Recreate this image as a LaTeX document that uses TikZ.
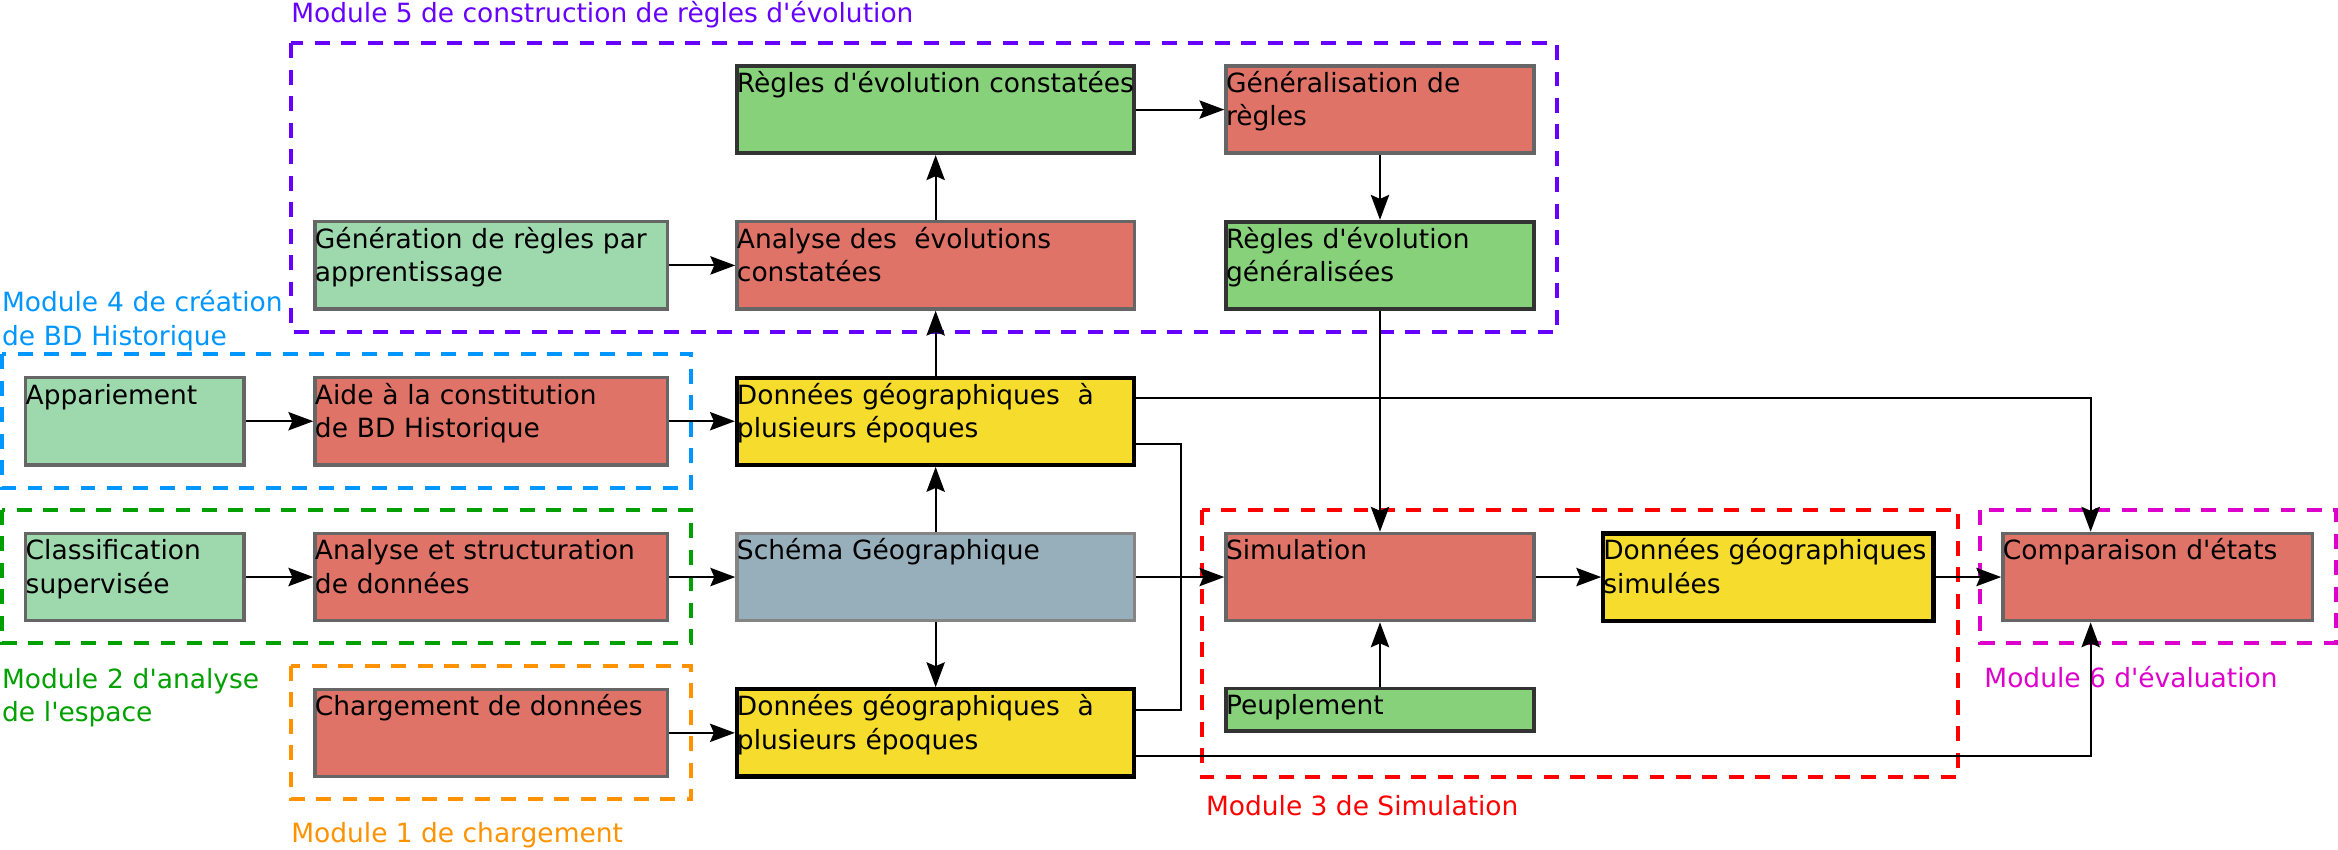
\documentclass[tikz,border=0pt]{standalone}
\usepackage{fontspec}
\usepackage{tikz}
\usetikzlibrary{calc,arrows.meta}
\newfontfamily\dejavu{DejaVu Sans}
\newcommand{\boxfont}{\dejavu\fontsize{10.1}{12.75}\selectfont}
\definecolor{redfill}{HTML}{E07367}
\definecolor{lgrfill}{HTML}{9ED9AE}
\definecolor{grfill}{HTML}{87D17A}
\definecolor{yelfill}{HTML}{F5DC2D}
\definecolor{blufill}{HTML}{97AEBB}
\definecolor{edgegray}{HTML}{666666}
\definecolor{edgedark}{HTML}{333333}
\definecolor{edgelight}{HTML}{858585}
\definecolor{mod1}{HTML}{FF9200}
\definecolor{mod2}{HTML}{00A000}
\definecolor{mod3}{HTML}{FF0000}
\definecolor{mod4}{HTML}{0096FF}
\definecolor{mod5}{HTML}{6600FF}
\definecolor{mod6}{HTML}{DD00CC}
\tikzset{
  box/.style={line width=1.3pt, inner sep=0pt, align=left, text height=3.55mm, text depth=8.15mm, font=\boxfont},
  lowbox/.style={text depth=2.15mm},
  redb/.style={box, fill=redfill, draw=edgegray},
  lgrb/.style={box, fill=lgrfill, draw=edgegray},
  grb/.style={box, fill=grfill, draw=edgedark, line width=1.5pt},
  yelb/.style={box, fill=yelfill, draw=black, line width=1.6pt},
  blub/.style={box, fill=blufill, draw=edgelight},
  arr/.style={draw=black, line width=0.75pt, -{Stealth[length=9.5pt,width=7pt,inset=1.5pt]}},
  link/.style={draw=black, line width=0.75pt},
  modframe/.style={line width=1.5pt, dash pattern=on 2mm off 1.55mm},
  modlab/.style={font=\boxfont, inner sep=0pt, anchor=base west},
}
\begin{document}
\begin{tikzpicture}[x=0.2mm,y=-0.2mm]
  \useasboundingbox (0,0) rectangle (1568,569.4);
  \def\colA{29.3mm}
  \def\colB{47.3mm}
  \def\colC{53.3mm}
  \def\colD{41.3mm}
  \def\colE{44.3mm}
  \def\colF{41.5mm}

  % module frames
  \draw[modframe,draw=mod5] (195,29.1) rectangle (1044.3,222.4);
  \draw[modframe,draw=mod4] (1.4,237.6) rectangle (463.7,327);
  \draw[modframe,draw=mod2] (1.4,342) rectangle (463.7,431);
  \draw[modframe,draw=mod1] (195,446.5) rectangle (463.7,536);
  \draw[modframe,draw=mod3] (806,342) rectangle (1313,521);
  \draw[modframe,draw=mod6] (1328,342) rectangle (1566.6,431);

  \node[modlab,text=mod5] (lab5) at (195,15) {Module 5 de construction de règles d'évolution};
  \node[modlab,text=mod4,text width=45mm] (lab4) at (1,209) {Module 4 de création\\de BD Historique};
  \node[modlab,text=mod2,text width=45mm] (lab2) at (1,461.5) {Module 2 d'analyse\\de l'espace};
  \node[modlab,text=mod1] (lab1) at (195,565) {Module 1 de chargement};
  \node[modlab,text=mod3] (lab3) at (808.5,547.2) {Module 3 de Simulation};
  \node[modlab,text=mod6] (lab6) at (1330.5,461.2) {Module 6 d'évaluation};

  % boxes
  \node[grb,text width=\colC] (regconst) at (627.5,73.5) {\mbox{Règles d'évolution constatées}};
  \node[redb,text width=\colD] (general) at (925.5,73.5) {Généralisation de\\règles};
  \node[lgrb,text width=\colB] (gen) at (329.5,178) {Génération de règles par\\apprentissage};
  \node[redb,text width=\colC] (anaevo) at (627.5,178) {Analyse des\ \ évolutions\\constatées};
  \node[grb,text width=\colD] (reggen) at (925.5,178) {Règles d'évolution\\généralisées};
  \node[lgrb,text width=\colA] (appar) at (90.5,282.5) {Appariement};
  \node[redb,text width=\colB] (aide) at (329.5,282.5) {Aide à la constitution\\de BD Historique};
  \node[yelb,text width=\colC] (dtop) at (627.5,282.5) {Données géographiques\ \ à\\plusieurs époques};
  \node[lgrb,text width=\colA] (classif) at (90.5,387) {Classification\\supervisée};
  \node[redb,text width=\colB] (anastr) at (329.5,387) {Analyse et structuration\\de données};
  \node[blub,text width=\colC] (schema) at (627.5,387) {Schéma Géographique};
  \node[redb,text width=\colD] (simu) at (925.5,387) {Simulation};
  \node[yelb,text width=\colE] (dsim) at (1186,387) {Données géographiques\\simulées};
  \node[redb,text width=\colF] (comp) at (1447,387) {Comparaison d'états};
  \node[redb,text width=\colB] (charg) at (329.5,491.5) {Chargement de données};
  \node[yelb,text width=\colC] (dbot) at (627.5,491.5) {Données géographiques\ \ à\\plusieurs époques};
  \node[grb,lowbox,text width=\colD] (peupl) at (925.5,476) {Peuplement};

  % connectors
  \draw[arr] (gen) -- (anaevo);
  \draw[arr] (anaevo) -- (regconst);
  \draw[arr] (regconst) -- (general);
  \draw[arr] (general) -- (reggen);
  \draw[arr] (reggen) -- (simu);
  \draw[arr] (appar) -- (aide);
  \draw[arr] (aide) -- (dtop);
  \draw[arr] (dtop) -- (anaevo);
  \draw[arr] (classif) -- (anastr);
  \draw[arr] (anastr) -- (schema);
  \draw[arr] (schema) -- (dtop);
  \draw[arr] (schema) -- (dbot);
  \draw[arr] (schema) -- (simu);
  \draw[arr] (charg) -- (dbot);
  \draw[arr] (simu) -- (dsim);
  \draw[arr] (dsim) -- (comp);
  \draw[arr] (peupl) -- (simu);
  \draw[arr] ($(dtop.north east)!.25!(dtop.south east)$) -| ($(comp.north west)!.286!(comp.north east)$);
  \draw[arr] ($(dbot.north east)!.75!(dbot.south east)$) -| ($(comp.south west)!.286!(comp.south east)$);
  \draw[link] ($(dtop.north east)!.75!(dtop.south east)$) -- ++(30,0) |- ($(dbot.north east)!.25!(dbot.south east)$);
\end{tikzpicture}
\end{document}
